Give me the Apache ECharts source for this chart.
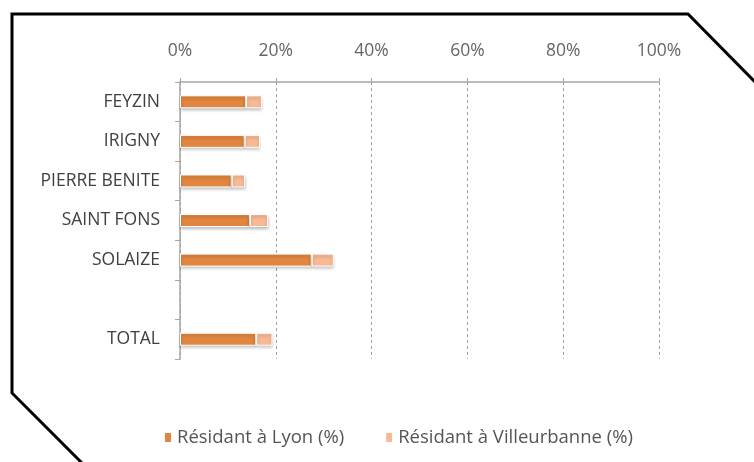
<!DOCTYPE html>
<html>
<head>
<meta charset="utf-8">
<script src="https://cdn.jsdelivr.net/npm/echarts@6/dist/echarts.min.js"></script>
<style>
  html, body { margin: 0; padding: 0; background: #fff; }
  #chart { width: 754px; height: 462px; }
</style>
</head>
<body>
<div id="chart"></div>
<script>
// communes, with an empty slot before the total
var communes = ['FEYZIN', 'IRIGNY', 'PIERRE BENITE', 'SAINT FONS', 'SOLAIZE', '', 'TOTAL'];
var lyon = [13.8, 13.5, 10.8, 14.6, 27.5, null, 15.9];
var villeurbanne = [3.3, 3.2, 2.8, 3.8, 4.6, null, 3.4];
var xTicks = [0, 20, 40, 60, 80, 100];

var chart = echarts.init(document.getElementById('chart'));

var barStyle = function (c) {
    return {
        color: c,
        borderColor: '#fff',
        borderWidth: 1,
        shadowColor: 'rgba(0,0,0,0.25)',
        shadowBlur: 3,
        shadowOffsetY: 2
    };
};

var option = {
    backgroundColor: '#fff',
    textStyle: { fontFamily: 'Open Sans, sans-serif' },
    grid: { left: 180, right: 95, top: 82, bottom: 103 },
    legend: {
        top: 423,
        left: 158,
        itemWidth: 8,
        itemHeight: 11,
        itemGap: 40,
        icon: 'rect',
        textStyle: { color: '#555', fontSize: 18.5 },
        data: ['Résidant à Lyon (%)', 'Résidant à Villeurbanne (%)']
    },
    xAxis: {
        type: 'value',
        position: 'top',
        min: xTicks[0],
        max: xTicks[xTicks.length - 1],
        interval: 20,
        axisLine: { show: true, lineStyle: { color: '#a6a6a6', width: 1.5 } },
        axisTick: { show: true, length: 4, lineStyle: { color: '#a6a6a6' } },
        axisLabel: {
            color: '#666',
            fontSize: 17.5,
            margin: 22,
            formatter: function (v) { return v + '%'; }
        },
        splitLine: { show: true, lineStyle: { color: '#a0a0a0', type: [3, 3] } }
    },
    yAxis: {
        type: 'category',
        inverse: true,
        data: communes,
        axisLine: { show: true, lineStyle: { color: '#a6a6a6', width: 1.5 } },
        axisTick: { show: true, length: 5, lineStyle: { color: '#a6a6a6' } },
        axisLabel: { color: '#404040', fontSize: 17.5, margin: 20 }
    },
    series: [
        {
            name: 'Résidant à Lyon (%)',
            type: 'bar',
            stack: 'r',
            barWidth: 13,
            data: lyon,
            itemStyle: barStyle('#e1853f')
        },
        {
            name: 'Résidant à Villeurbanne (%)',
            type: 'bar',
            stack: 'r',
            barWidth: 13,
            data: villeurbanne,
            itemStyle: barStyle('#f8b994')
        }
    ],
    graphic: [
        {
            type: 'polyline',
            silent: true,
            shape: { points: [[82, 463], [12, 393], [12, 14], [688, 14], [755, 82]] },
            style: { stroke: '#000', lineWidth: 3, fill: null }
        }
    ]
};

chart.setOption(option);
</script>
</body>
</html>
